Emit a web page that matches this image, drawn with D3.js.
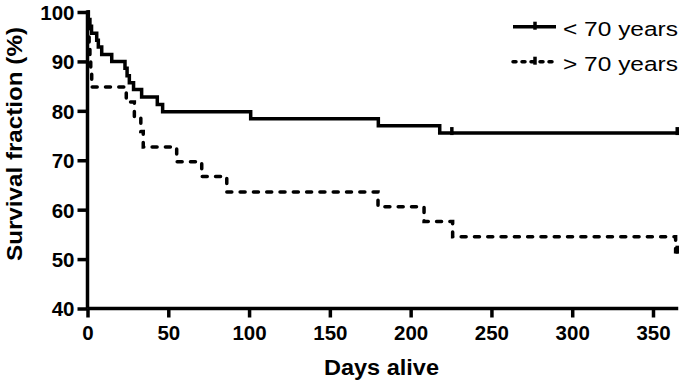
<!DOCTYPE html>
<html>
<head>
<meta charset="utf-8">
<script src="https://cdn.jsdelivr.net/npm/d3@7"></script>
<style>
  html, body { margin: 0; padding: 0; background: #fff; }
  svg { display: block; }
  text { font-family: "Liberation Sans", Arial, sans-serif; fill: #000; }
</style>
</head>
<body>
<svg id="chart" width="686" height="386"></svg>
<script>
// ---- data ----
const seriesNames = ["< 70 years", "> 70 years"];
// Kaplan-Meier steps: [day, survival % after event]
const under70Days   = [0, 0.5, 1.5, 2.5, 5.7, 6.7, 8.8, 15, 23.2, 24.5, 25.9, 28.5, 33.5, 43.2, 46.5, 101, 180, 218, 365];
const under70Values = [100, 98.5, 97.1, 95.7, 94.3, 92.9, 91.4, 90.0, 88.6, 87.1, 85.7, 84.3, 82.8, 81.3, 79.8, 78.4, 77.0, 75.5, 75.5];
const under70Censor = [225.5, 365];
const over70Days    = [0, 0.5, 1, 1.5, 2, 2.6, 24, 29, 33, 34.5, 55.2, 70.7, 86.2, 179.8, 208.3, 226, 364, 365];
const over70Values  = [100, 97.0, 93.9, 90.9, 87.9, 84.8, 81.8, 78.8, 75.8, 72.7, 69.7, 66.7, 63.6, 60.6, 57.6, 54.5, 51.5, 51.5];
const over70Censor  = [365];
const xTicks = [0, 50, 100, 150, 200, 250, 300, 350];
const yTicks = [40, 50, 60, 70, 80, 90, 100];

// ---- layout ----
const svg = d3.select("#chart");
const x = d3.scaleLinear().domain([0, 350]).range([87.5, 653]);
const y = d3.scaleLinear().domain([40, 100]).range([308.5, 12]);

const strokeW = 3.5;

// axes
const xAxis = d3.axisBottom(x).tickValues(xTicks).tickSize(9).tickPadding(8).tickSizeOuter(0);
const gx = svg.append("g").attr("transform", `translate(0,${y(40)})`).call(xAxis);
gx.select(".domain").attr("d", `M${x(0)},0H${x(365) + 1}`);
const yAxis = d3.axisLeft(y).tickValues(yTicks).tickSize(10).tickPadding(3).tickSizeOuter(0);
const gy = svg.append("g").attr("transform", `translate(${x(0)},0)`).call(yAxis);
gy.select(".domain").attr("d", `M0,${y(100) - 1.5}V${y(40)}`);

[gx, gy].forEach(g => {
  g.selectAll(".domain").attr("stroke", "#000").attr("stroke-width", strokeW).attr("fill", "none");
  g.selectAll(".tick line").attr("stroke", "#000").attr("stroke-width", strokeW);
  g.selectAll(".tick text")
    .attr("font-family", "'Liberation Sans', Arial, sans-serif")
    .attr("font-size", 20.5).attr("font-weight", "bold").attr("fill", "#000");
});
gx.selectAll(".tick text").attr("dy", "0.71em");
gy.selectAll(".tick text").attr("dy", "0.36em");

// axis titles
svg.append("text")
  .attr("x", 381.5).attr("y", 375)
  .attr("text-anchor", "middle")
  .attr("font-size", 22).attr("font-weight", "bold")
  .attr("textLength", 115).attr("lengthAdjust", "spacingAndGlyphs")
  .text("Days alive");
svg.append("text")
  .attr("transform", "translate(21.5,144) rotate(-90)")
  .attr("text-anchor", "middle")
  .attr("font-size", 21.5).attr("font-weight", "bold")
  .attr("textLength", 234).attr("lengthAdjust", "spacingAndGlyphs")
  .text("Survival fraction (%)");

// curves
const stepLine = d3.line().x(d => x(d[0])).y(d => y(d[1])).curve(d3.curveStepAfter);
const series = [
  { days: under70Days, vals: under70Values, censor: under70Censor, dash: null },
  { days: over70Days, vals: over70Values, censor: over70Censor, dash: "5,8.3" }
];
series.forEach(s => {
  const pts = s.days.map((d, i) => [d, s.vals[i]]);
  svg.append("path")
    .attr("d", stepLine(pts))
    .attr("fill", "none").attr("stroke", "#000")
    .attr("stroke-width", strokeW)
    .attr("stroke-dasharray", s.dash)
    .attr("stroke-linecap", s.dash ? "round" : "butt")
    .attr("stroke-linejoin", "miter");
  // censor ticks
  s.censor.forEach(c => {
    let v = s.vals[0];
    s.days.forEach((d, i) => { if (d <= c) v = s.vals[i]; });
    svg.append("line")
      .attr("x1", x(c)).attr("x2", x(c))
      .attr("y1", y(v) - 6).attr("y2", y(v) + 2)
      .attr("stroke", "#000").attr("stroke-width", strokeW);
  });
});

// legend
const legendRows = [
  { name: seriesNames[0], dash: null, y: 26.7 },
  { name: seriesNames[1], dash: "3,6", y: 61.7 }
];
legendRows.forEach(r => {
  svg.append("line")
    .attr("x1", 513).attr("x2", 556).attr("y1", r.y).attr("y2", r.y)
    .attr("stroke", "#000").attr("stroke-width", strokeW)
    .attr("stroke-dasharray", r.dash)
    .attr("stroke-linecap", r.dash ? "round" : "butt");
  svg.append("line")
    .attr("x1", 535).attr("x2", 535).attr("y1", r.y - 5).attr("y2", r.y + 3)
    .attr("stroke", "#000").attr("stroke-width", strokeW);
  svg.append("text")
    .attr("x", 563).attr("y", r.y + 9.5)
    .attr("font-size", 20.5)
    .attr("textLength", 115).attr("lengthAdjust", "spacingAndGlyphs")
    .text(r.name);
});
</script>
</body>
</html>
